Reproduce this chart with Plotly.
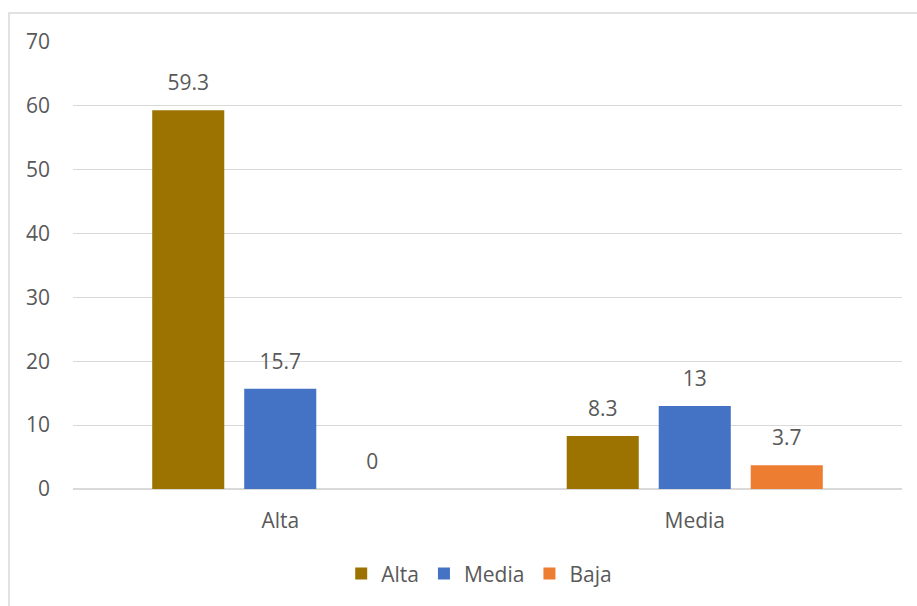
import plotly.graph_objects as go

categories = ["Alta", "Media"]
series_names = ["Alta", "Media", "Baja"]
alta_values = [59.3, 8.3]
media_values = [15.7, 13]
baja_values = [0, 3.7]
colors = ["#9C7300", "#4472C4", "#ED7D31"]
y_ticks = [0, 10, 20, 30, 40, 50, 60, 70]

FONT = "Open Sans"
TEXT_COLOR = "#595959"
FS = 21

fig = go.Figure()
for name, vals, col in zip(series_names, [alta_values, media_values, baja_values], colors):
    fig.add_trace(go.Bar(
        name=name, x=categories, y=vals, offsetgroup=name,
        marker=dict(color=col, line=dict(width=0)),
    ))
    # value labels, lifted above the bar tops by an invisible marker
    fig.add_trace(go.Scatter(
        x=categories, y=vals, offsetgroup=name, mode="markers+text",
        text=[f"{v:g}" for v in vals], textposition="top center",
        marker=dict(size=22, opacity=0), cliponaxis=False, showlegend=False,
        textfont=dict(family=FONT, size=FS, color=TEXT_COLOR), hoverinfo="skip",
    ))

fig.update_layout(
    width=917, height=606,
    margin=dict(l=73, r=15, t=42, b=115),
    paper_bgcolor="white", plot_bgcolor="white",
    barmode="group", bargap=0.334, bargroupgap=0.217, scattermode="group",
    font=dict(family=FONT, size=FS, color=TEXT_COLOR),
    showlegend=True,
    legend=dict(orientation="h", x=0.49, xanchor="center", y=-0.19, yanchor="middle",
                font=dict(family=FONT, size=FS, color=TEXT_COLOR),
                itemwidth=30, traceorder="normal"),
    shapes=[dict(type="rect", xref="paper", yref="paper",
                 x0=-0.0772, x1=1.2, y0=-0.4, y1=1.0646,
                 line=dict(color="#D9D9D9", width=1.5), fillcolor="rgba(0,0,0,0)", layer="below")],
)
fig.update_yaxes(range=[0, 70], tickvals=y_ticks, showgrid=True, gridcolor="#D9D9D9", gridwidth=1,
                 zeroline=True, zerolinecolor="#D9D9D9", zerolinewidth=1.5, showline=False,
                 ticks="", ticklabelstandoff=22, tickfont=dict(size=FS))
fig.update_xaxes(showline=False, ticks="", ticklabelstandoff=17, tickfont=dict(size=FS))

fig.write_html("out.html")
